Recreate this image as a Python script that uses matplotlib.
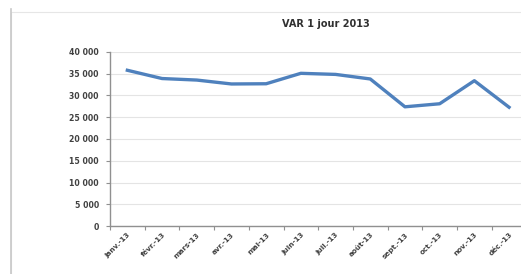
import matplotlib
matplotlib.use("Agg")
import matplotlib.pyplot as plt
from matplotlib.patches import Rectangle
from matplotlib.lines import Line2D
from matplotlib.ticker import FuncFormatter

months = ["janv.-13", "févr.-13", "mars-13", "avr.-13", "mai-13", "juin-13",
          "juil.-13", "août-13", "sept.-13", "oct.-13", "nov.-13", "déc.-13"]
var_values = [35800, 33900, 33550, 32650, 32700, 35100,
              34850, 33800, 27400, 28100, 33400, 27300]
y_ticks = list(range(0, 40001, 5000))
title = "VAR 1 jour 2013"

W, H = 521, 274
fig = plt.figure(figsize=(W / 100, H / 100), dpi=100)
fig.patch.set_facecolor("white")

# chart area border (Excel-like)
fig.add_artist(Rectangle((11 / W, -0.1), 1.2, (H - 12) / H + 0.1,
                         transform=fig.transFigure, fill=False,
                         edgecolor="#e6e6e6", linewidth=0.8))
fig.add_artist(Line2D([11 / W, 11 / W], [0, (H - 9) / H],
                      transform=fig.transFigure, color="#c8c8c8", linewidth=1.2))

left = 110 / W
bottom = (H - 226) / H
top = (H - 52) / H
width = 12 * 34.7 / W
ax = fig.add_axes([left, bottom, width, top - bottom])

x = list(range(len(months)))
ax.plot(x, var_values, color="#4F81BD", linewidth=2.4, solid_joinstyle="round")

ax.set_xlim(-0.5, len(months) - 0.5)
ax.set_ylim(0, 40000)

ax.set_yticks(y_ticks)
ax.yaxis.set_major_formatter(FuncFormatter(lambda v, p: f"{int(v):,}".replace(",", " ")))
ax.grid(axis="y", color="#e4e4e4", linewidth=0.8)
ax.set_axisbelow(True)

# category ticks at boundaries, labels at centres
ax.set_xticks([i - 0.5 for i in range(len(months) + 1)])
ax.set_xticklabels([])
ax.set_xticks(x, minor=True)
ax.set_xticklabels(months, minor=True, rotation=45, ha="right",
                   rotation_mode="anchor", fontsize=5.2, color="#404040")
ax.tick_params(axis="x", which="minor", length=0, pad=4)
ax.tick_params(axis="x", which="major", length=3, color="#909090", width=0.8)
ax.tick_params(axis="y", length=3, color="#909090", width=0.8,
               labelsize=5.6, labelcolor="#404040", pad=5)
for lab in ax.get_yticklabels() + ax.get_xticklabels(minor=True):
    lab.set_fontweight("bold")

for s in ["top", "right"]:
    ax.spines[s].set_visible(False)
for s in ["left", "bottom"]:
    ax.spines[s].set_color("#909090")
    ax.spines[s].set_linewidth(1.0)

fig.text(326 / W, (H - 24) / H, title, ha="center", va="center",
         fontsize=7, fontweight="bold", color="#303030")

fig.savefig("out.png", dpi=100)
